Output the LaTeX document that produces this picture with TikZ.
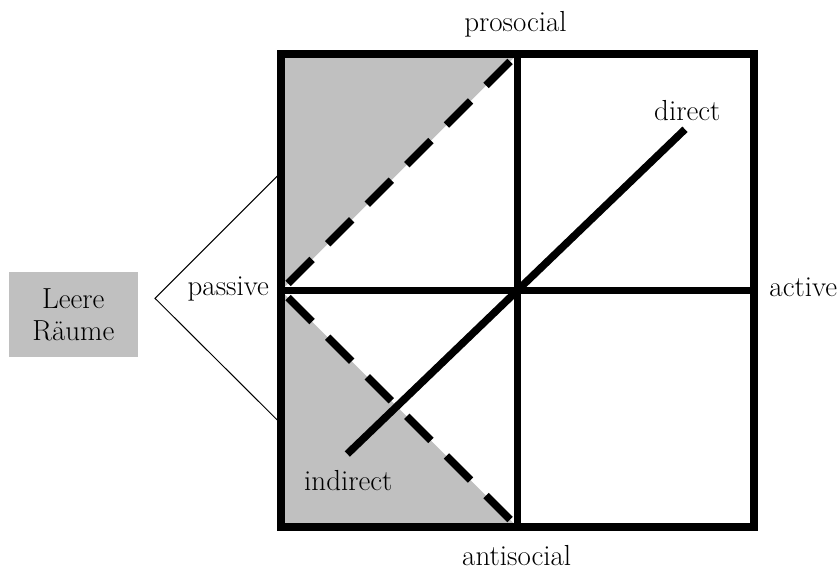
\documentclass[tikz,border=0pt]{standalone}
\definecolor{fillgray}{RGB}{192,192,192}
\begin{document}
\begin{tikzpicture}[x=1pt,y=-1pt,
  lbl/.style={font=\fontsize{29}{34}\selectfont, inner sep=0pt, anchor=base},
  heavy/.style={line width=7.5pt, draw=black},
  dashedge/.style={line width=7.5pt, draw=black, dash pattern=on 34pt off 22pt, shorten <=10pt, shorten >=10pt},
  shade/.style={fill=fillgray},
  bracket/.style={line width=1pt, draw=black},
  graybox/.style={fill=fillgray, minimum width=128.7pt, minimum height=85pt, inner sep=0pt, align=center, font=\fontsize{29}{32.4}\selectfont}]
\useasboundingbox (0,0) rectangle (838,570);
% square frame coordinates
\coordinate (TL) at (281,54);
\coordinate (TR) at (754,54);
\coordinate (BL) at (281,527);
\coordinate (BR) at (754,527);
\coordinate (TM) at (517.5,54);
\coordinate (BM) at (517.5,527);
\coordinate (LM) at (281,290.5);
\coordinate (RM) at (754,290.5);
% shaded triangles
\fill[shade] (TL) -- (TM) -- (LM) -- cycle;
\fill[shade] (LM) -- (BM) -- (BL) -- cycle;
% dashed diagonals
\draw[dashedge] (LM) -- (TM);
\draw[dashedge] (LM) -- (BM);
% frame and axes
\draw[heavy] (TL) rectangle (BR);
\draw[heavy] (TM) -- (BM);
\draw[heavy] (LM) -- (RM);
% direct / indirect diagonal
\coordinate (D1) at (347.3,454);
\coordinate (D2) at (685,129.3);
\draw[heavy] (D1) -- (D2);
% labels
\node[lbl] (pro) at (515.5,31.7) {prosocial};
\node[lbl] (anti) at (516.7,565) {antisocial};
\node[lbl] (pass) at (228.3,295.5) {passive};
\node[lbl] (act) at (803.3,296) {active};
\node[lbl] (dir) at (687.3,120) {direct};
\node[lbl] (indir) at (348.3,490.7) {indirect};
% Leere Raeume box and bracket
\node[graybox] (leer) at (73.3,314.8) {Leere\\Räume};
\coordinate (apex) at (155,298.3);
\coordinate (bt) at (277.3,176);
\coordinate (bb) at (277.3,420);
\draw[bracket] (bt) -- (apex) -- (bb);
\end{tikzpicture}
\end{document}
